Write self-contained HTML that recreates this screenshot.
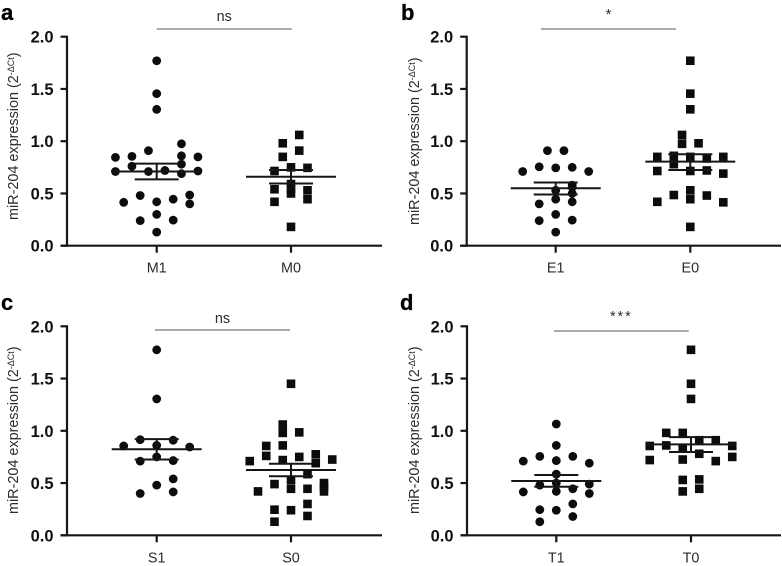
<!DOCTYPE html>
<html lang="en">
<head>
<meta charset="utf-8">
<title>miR-204 expression by group</title>
<style>
html,body{margin:0;padding:0;background:#fff;width:782px;height:566px;overflow:hidden}
svg{display:block;filter:blur(0.3px)}
text{font-family:"Liberation Sans",sans-serif}
</style>
</head>
<body>
<svg id="figure" xmlns="http://www.w3.org/2000/svg" width="782" height="566" viewBox="0 0 782 566"></svg>
<script>
// Tick labels
const yTicks = [0, 0.5, 1, 1.5, 2];

// Panel a
const aCategories = ['M1', 'M0'];
const aValues1 = [1.77,1.455,1.305,.975,.91,.845,.855,.86,.85,.76,.78,.71,.71,.72,.69,.715,.48,.485,.415,.42,.445,.40,.30,.24,.245,.13];
const aColumns1 = [0,0,0,3,-1,-5,-3,3,5,-3,3,-5,-1,1,3,5,-2,4,-4,0,2,4,0,-2,2,0];
const aValues2 = [1.06,.98,.91,.85,.715,.75,.745,.59,.54,.545,.50,.53,.445,.42,.18];
const aColumns2 = [1,-1,1,-1,-2,0,2,0,-2,0,0,2,2,-2,0];
const aMeans = [.71,.66];
const aLowers = [.635,.595];
const aUppers = [.785,.725];

// Panel b
const bCategories = ['E1', 'E0'];
const bValues1 = [.91,.91,.755,.745,.75,.71,.71,.58,.56,.53,.50,.445,.40,.42,.30,.24,.245,.13];
const bColumns1 = [-1,1,-2,0,2,-4,4,2,2,0,2,0,-2,2,0,-2,2,0];
const bValues2 = [1.77,1.455,1.305,1.06,.975,.98,.85,.86,.85,.835,.85,.78,.715,.715,.72,.69,.53,.485,.48,.445,.42,.415,.18];
const bColumns2 = [0,0,0,-1,-1,1,-4,-2,0,2,4,-2,-4,0,2,4,0,-2,2,0,-4,4,0];
const bMeans = [.55,.805];
const bLowers = [.49,.725];
const bUppers = [.605,.875];

// Panel c
const cCategories = ['S1', 'S0'];
const cValues1 = [1.775,1.305,.915,.91,.855,.86,.845,.75,.71,.715,.54,.48,.415,.40];
const cColumns1 = [0,0,-2,2,-4,0,4,0,-2,2,2,0,2,-2];
const cValues2 = [1.45,1.06,.98,.985,.855,.86,.76,.775,.75,.72,.725,.71,.69,.585,.53,.49,.50,.445,.445,.47,.42,.42,.30,.245,.24,.185,.13];
const cColumns2 = [0,-1,-1,1,-3,-1,-3,3,1,-1,5,-5,3,2,0,-2,4,0,2,4,4,-4,2,-2,0,2,-2];
const cMeans = [.823,.625];
const cLowers = [.725,.565];
const cUppers = [.92,.685];

// Panel d
const dCategories = ['T1', 'T0'];
const dValues1 = [1.065,.86,.755,.755,.71,.715,.69,.585,.48,.50,.49,.445,.42,.415,.40,.30,.245,.24,.18,.13];
const dColumns1 = [0,0,-2,2,-4,0,4,0,-2,0,4,2,0,-4,4,2,-2,0,2,-2];
const dValues2 = [1.775,1.45,1.305,.98,.98,.91,.91,.855,.86,.835,.855,.78,.75,.72,.725,.71,.53,.535,.445,.42];
const dColumns2 = [0,0,0,-3,-1,1,3,-5,-3,-1,5,1,5,-5,-1,3,-1,1,1,-1];
const dMeans = [.52,.87];
const dLowers = [.465,.797];
const dUppers = [.577,.94];

const svg = document.getElementById('figure');
const NS = 'http://www.w3.org/2000/svg';
const INK = '#161616';

function make(tag, attrs, parent, txt) {
  const el = document.createElementNS(NS, tag);
  Object.keys(attrs).forEach(k => el.setAttribute(k, attrs[k]));
  if (txt !== undefined) el.textContent = txt;
  parent.appendChild(el);
  return el;
}

function drawPanel(p) {
  const g = make('g', {}, svg);
  
  

  const yScale = v => p.y0 - v * 104.5;
  const xScale = (group, col) => p.cx[group] + col * 8.25;

  const letter = make('text', {x: p.letterX, y: p.letterY, 'font-size': 22, 'font-weight': 'bold', fill: '#000', stroke: '#000', 'stroke-width': 0.3}, g, p.letter);
  
  

  // y axis title
  const title = make('text', {transform: 'translate(' + p.titleX + ',' + p.titleY + ') rotate(-90)', 'font-size': 14.4, fill: '#2c2c2c'}, g);
  
  
  make('tspan', {}, title, 'miR-204 expression (2');
  make('tspan', {dy: -4, 'font-size': 9}, title, '-ΔCt');
  make('tspan', {dy: 4}, title, ')');

  // axes
  const yAxis = make('line', {x1: p.axisX, x2: p.axisX, y1: yScale(2) - 1, y2: p.y0 + 1, stroke: INK, 'stroke-width': 2.2}, g);
  
  
  const xAxis = make('line', {x1: p.axisX - 6.5, x2: p.axisEnd, y1: p.y0, y2: p.y0, stroke: INK, 'stroke-width': 2.2}, g);
  
  

  yTicks.forEach(v => {
    const tick = make('line', {x1: p.axisX - 6.5, x2: p.axisX, y1: yScale(v), y2: yScale(v), stroke: INK, 'stroke-width': 2.2}, g);
    
    
    const label = make('text', {x: p.axisX - 13.5, y: yScale(v) + 6, 'text-anchor': 'end', 'font-size': 16.5, 'font-weight': 'bold', fill: '#111'}, g, v.toFixed(1));
    
    
  });

  p.categories.forEach((c, i) => {
    const tick = make('line', {x1: p.cx[i], x2: p.cx[i], y1: p.y0, y2: p.y0 + 7, stroke: INK, 'stroke-width': 2.2}, g);
    
    
    const label = make('text', {x: p.cx[i], y: p.y0 + 27, 'text-anchor': 'middle', 'font-size': 14.4, fill: '#2c2c2c'}, g, c);
    
    
  });

  // points
  p.values1.forEach((v, i) => {
    const dot = make('circle', {cx: xScale(0, p.columns1[i]), cy: yScale(v), r: 4.4, fill: '#0c0c0c'}, g);
    
    
  });
  p.values2.forEach((v, i) => {
    const sq = make('rect', {x: xScale(1, p.columns2[i]) - 4.3, y: yScale(v) - 4.3, width: 8.6, height: 8.6, fill: '#0c0c0c'}, g);
    
    
  });

  // mean and SEM bars
  p.means.forEach((m, i) => {
    const cx = p.cx[i];
    const stem = make('line', {x1: cx, x2: cx, y1: yScale(p.uppers[i]), y2: yScale(p.lowers[i]), stroke: INK, 'stroke-width': 2}, g);
    
    
    const mean = make('line', {x1: cx - 45, x2: cx + 45, y1: yScale(m), y2: yScale(m), stroke: INK, 'stroke-width': 2}, g);
    
    
    [p.uppers[i], p.lowers[i]].forEach(e => {
      const cap = make('line', {x1: cx - 22, x2: cx + 22, y1: yScale(e), y2: yScale(e), stroke: INK, 'stroke-width': 2}, g);
      
      
    });
  });

  // significance
  const bracket = make('line', {x1: p.sigX1, x2: p.sigX2, y1: p.sigY, y2: p.sigY, stroke: '#555', 'stroke-width': 1.1}, g);
  
  
  const sig = make('text', {x: (p.sigX1 + p.sigX2) / 2, y: p.sigTextY, 'text-anchor': 'middle', 'font-size': 14.4, 'letter-spacing': p.sigSpacing, fill: '#2c2c2c'}, g, p.sig);
  
  
}

drawPanel({letter:'a', letterX:1, letterY:20, titleX:18, titleY:220, axisX:67, axisEnd:382, y0:245.7, cx:[156.7,291],
  categories:aCategories, values1:aValues1, columns1:aColumns1, values2:aValues2, columns2:aColumns2, means:aMeans, lowers:aLowers, uppers:aUppers,
  sigX1:156.7, sigX2:291.7, sigY:29, sig:'ns', sigSpacing:0, sigTextY:21});
drawPanel({letter:'b', letterX:401, letterY:20, titleX:419, titleY:225, axisX:466.7, axisEnd:781, y0:245.7, cx:[555.7,690.3],
  categories:bCategories, values1:bValues1, columns1:bColumns1, values2:bValues2, columns2:bColumns2, means:bMeans, lowers:bLowers, uppers:bUppers,
  sigX1:541, sigX2:676, sigY:29, sig:'*', sigSpacing:0, sigTextY:19});
drawPanel({letter:'c', letterX:1, letterY:310, titleX:18, titleY:514, axisX:67, axisEnd:382, y0:535.3, cx:[156.7,291],
  categories:cCategories, values1:cValues1, columns1:cColumns1, values2:cValues2, columns2:cColumns2, means:cMeans, lowers:cLowers, uppers:cUppers,
  sigX1:155, sigX2:290, sigY:330, sig:'ns', sigSpacing:0, sigTextY:323});
drawPanel({letter:'d', letterX:400, letterY:310, titleX:419, titleY:514, axisX:467, axisEnd:781, y0:535.3, cx:[556.3,691],
  categories:dCategories, values1:dValues1, columns1:dColumns1, values2:dValues2, columns2:dColumns2, means:dMeans, lowers:dLowers, uppers:dUppers,
  sigX1:554, sigX2:688.7, sigY:331, sig:'***', sigSpacing:2, sigTextY:321});
</script>
</body>
</html>
